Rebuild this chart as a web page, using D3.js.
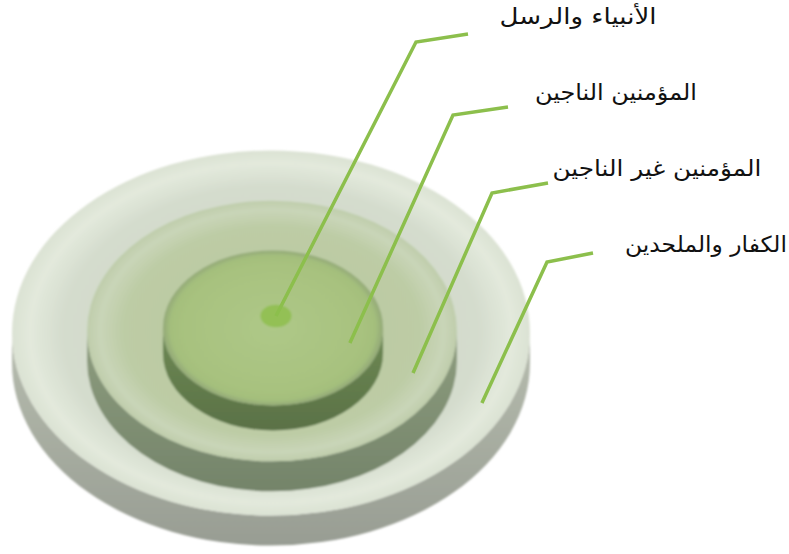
<!DOCTYPE html>
<html>
<head>
<meta charset="utf-8">
<script src="https://cdn.jsdelivr.net/npm/d3@7"></script>
<style>
  html, body { margin: 0; padding: 0; background: #ffffff; }
  svg { display: block; }
</style>
</head>
<body>
<svg id="chart" width="789" height="554"></svg>
<script>
// ---------------- data ----------------
// labels, innermost level first
const labels = ["الأنبياء والرسل", "المؤمنين الناجين", "المؤمنين غير الناجين", "الكفار والملحدين"];
// relative radius of each level (1 = outermost disc)
const levelRadius = [0.06, 0.425, 0.714, 1.0];

// ---------------- layout ----------------
const W = 789, H = 554;
const tilt = 0.705;                       // ry / rx
const rScale = d3.scaleLinear().domain([0, 1]).range([0, 259]);
// visible centre of each level's top face (dot, inner, middle, outer)
const centres = [[276, 316], [273, 328], [272, 331], [271, 333]];
const sideH = [0, 25, 30, 30];
const styles = [
  { dot: "#93c055" },
  { top: ["#aec888", "#a8c27f", "#a4bf7c", "#93a978"], side: ["#6e8a55", "#5a7146"] },
  { top: ["#b9c9a0", "#bdcca5", "#c9d5b8", "#bfcdab"], side: ["#8e9d7f", "#74846a"] },
  { top: ["#ced7c5", "#d4dccd", "#e3e9dc", "#dbe2d3"], side: ["#b7bdaf", "#989d93"] }
];
// leader lines: anchor on a level (angle in disc plane, radius fraction), elbow, start point
const anchors = [
  { level: 0, angle: 0, r: 0 },
  { level: 1, angle: 15.5, r: 0.308 },
  { level: 2, angle: 22.9, r: 0.591 },
  { level: 3, angle: 25.2, r: 0.90 }
];
const elbows = [[416, 42], [453, 115], [492, 193], [547, 262]];
const starts = [[468, 34], [508, 107], [548, 183], [593, 253]];
const labelPos = [[578, 24], [616, 100], [657, 176], [706, 252]];
const labelWidth = [157, 162, 209, 162];

const svg = d3.select("#chart");
const defs = svg.append("defs");

const blur = defs.append("filter").attr("id", "soft")
  .attr("x", "-5%").attr("y", "-5%").attr("width", "110%").attr("height", "110%");
blur.append("feGaussianBlur").attr("stdDeviation", 0.8);

function proj(level, angleDeg, rFrac) {
  const a = angleDeg * Math.PI / 180;
  const [cx, cy] = centres[level];
  const r = rScale(rFrac);
  return [cx + r * Math.cos(a), cy + r * Math.sin(a) * tilt];
}

const discs = svg.append("g").attr("filter", "url(#soft)");

// draw from outermost to innermost
for (let i = levelRadius.length - 1; i >= 1; i--) {
  const [cx, cy] = centres[i];
  const rx = rScale(levelRadius[i]);
  const ry = rx * tilt;
  const h = sideH[i];
  const st = styles[i];

  const sg = defs.append("linearGradient").attr("id", "side" + i)
    .attr("x1", 0).attr("y1", 0).attr("x2", 0).attr("y2", 1);
  sg.append("stop").attr("offset", "0%").attr("stop-color", st.side[0]);
  sg.append("stop").attr("offset", "100%").attr("stop-color", st.side[1]);

  const tg = defs.append("radialGradient").attr("id", "top" + i)
    .attr("cx", "50%").attr("cy", "50%").attr("r", "50%");
  [0, 0.8, 0.93, 1].forEach((o, k) =>
    tg.append("stop").attr("offset", (o * 100) + "%").attr("stop-color", st.top[k]));

  const sidePath = `M${cx - rx},${cy} L${cx - rx},${cy + h} A${rx},${ry} 0 0 0 ${cx + rx},${cy + h} ` +
                   `L${cx + rx},${cy} A${rx},${ry} 0 0 1 ${cx - rx},${cy} Z`;
  discs.append("path").attr("d", sidePath).attr("fill", `url(#side${i})`);
  discs.append("ellipse")
    .attr("cx", cx).attr("cy", cy).attr("rx", rx).attr("ry", ry)
    .attr("fill", `url(#top${i})`);
}

// centre dot (prophets)
{
  const [cx, cy] = centres[0];
  const rx = rScale(levelRadius[0]);
  discs.append("ellipse")
    .attr("cx", cx).attr("cy", cy).attr("rx", rx).attr("ry", rx * 0.72)
    .attr("fill", styles[0].dot);
}

// leader lines
const line = d3.line();
svg.append("g").selectAll("path")
  .data(anchors)
  .join("path")
  .attr("d", (a, i) => line([starts[i], elbows[i], proj(a.level, a.angle, a.r)]))
  .attr("fill", "none")
  .attr("stroke", "#8cbf4c")
  .attr("stroke-width", 3.5)
  .attr("stroke-linejoin", "miter");

// labels
const texts = svg.append("g").selectAll("text")
  .data(labels)
  .join("text")
  .attr("x", 0)
  .attr("y", 0)
  .attr("text-anchor", "middle")
  .attr("direction", "rtl")
  .attr("font-family", "'DejaVu Sans', 'Noto Sans', sans-serif")
  .attr("font-size", 22)
  .attr("fill", "#111")
  .attr("transform", (d, i) => `translate(${labelPos[i][0]},${labelPos[i][1]})`)
  .text(d => d);

texts.each(function (d, i) {
  const w = this.getComputedTextLength();
  if (w > 0) {
    const sx = labelWidth[i] / w;
    d3.select(this).attr("transform",
      `translate(${labelPos[i][0]},${labelPos[i][1]}) scale(${sx},1)`);
  }
});
</script>
</body>
</html>
